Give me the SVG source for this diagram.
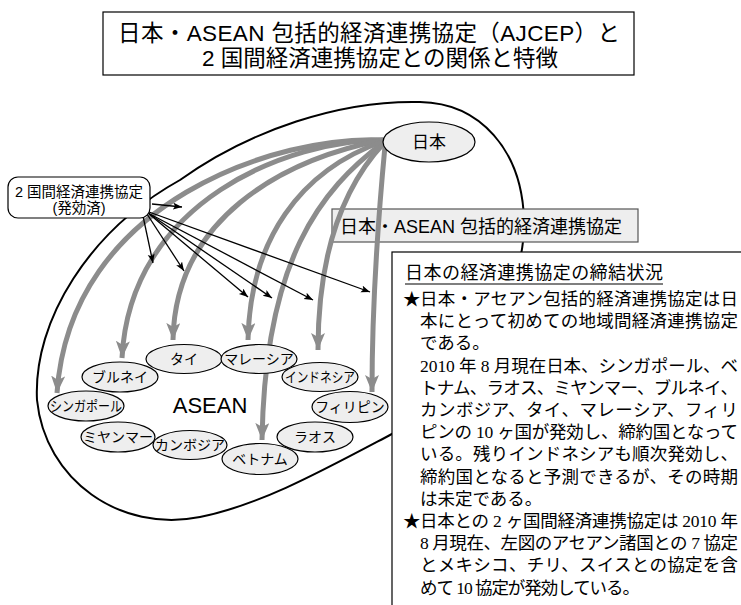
<svg xmlns="http://www.w3.org/2000/svg" width="741" height="605" viewBox="0 0 741 605">
<style>
.sans{font-family:"Liberation Sans","Noto Sans CJK JP",sans-serif;fill:#000}
.body{font-family:"Liberation Serif","Noto Sans CJK JP",serif;font-size:17.5px;fill:#000}
.country{fill:#eeeeee;stroke:#000;stroke-width:1.2}
.clabel{font-family:"Liberation Sans","Noto Sans CJK JP",sans-serif;font-size:14px;text-anchor:middle;fill:#000}
.gray{fill:none;stroke:#8c8c8c;stroke-width:5;marker-end:url(#ga)}
.blk{fill:none;stroke:#000;stroke-width:1.3;marker-end:url(#ba)}
</style>
<defs>
<marker id="ga" markerUnits="userSpaceOnUse" markerWidth="18" markerHeight="16" refX="17" refY="7" orient="auto">
<path d="M0,0 L17,7 L0,14 L4,7 Z" fill="#8c8c8c"/>
</marker>
<marker id="ba" markerUnits="userSpaceOnUse" markerWidth="10" markerHeight="8" refX="9" refY="3.5" orient="auto">
<path d="M0,0 L9,3.5 L0,7 L2,3.5 Z" fill="#000"/>
</marker>
</defs>
<rect width="741" height="605" fill="#fff"/>

<g id="title">
<rect x="103" y="12" width="531" height="63" fill="#fff" stroke="#000" stroke-width="1.2"/>
<text class="sans" x="118" y="41" font-size="22.5" textLength="502" lengthAdjust="spacing">日本・ASEAN 包括的経済連携協定（AJCEP）と</text>
<text class="sans" x="380" y="66" font-size="22.5" text-anchor="middle">2 国間経済連携協定との関係と特徴</text>
</g>

<g id="asean-region">
<path d="M37,400 C33,320 90,230 180,180 C250,130 340,100 420,102 C480,103 522,150 524,220 C526,300 460,400 390,435 C320,472 260,505 200,517 C120,533 45,480 37,400 Z" fill="none" stroke="#000" stroke-width="2"/>
</g>

<g id="ajcep-label">
<rect x="332" y="209" width="306" height="33" fill="#eeeeee" stroke="#555" stroke-width="1.2"/>
<text class="sans" x="340" y="233" font-size="18">日本・ASEAN 包括的経済連携協定</text>
</g>

<g id="connectors">
<path class="gray" d="M383,140 C280,135 70,200 57,393"/>
<path class="gray" d="M383,140 C290,140 130,200 122,358"/>
<path class="gray" d="M383,140 C280,160 175,220 173,340"/>
<path class="gray" d="M384,141 C300,170 250,240 248,340"/>
<path class="gray" d="M384,142 C320,190 265,260 262,440"/>
<path class="gray" d="M384,143 C340,190 318,260 318,350"/>
<path class="gray" d="M385,146 C378,220 372,300 372,392"/>
<path class="blk" d="M152,204 L182,207"/>
<path class="blk" d="M143,216 L153,263"/>
<path class="blk" d="M147,214 L184,271"/>
<path class="blk" d="M148,213 L248,297"/>
<path class="blk" d="M148,213 L272,298"/>
<path class="blk" d="M148,213 L313,300"/>
<path class="blk" d="M149,212 L370,292"/>
</g>

<g id="bilateral">
<rect x="8" y="177" width="142" height="41" rx="10" fill="#fff" stroke="#000" stroke-width="1.2"/>
<text class="sans" x="79" y="197" font-size="14.5" text-anchor="middle">2 国間経済連携協定</text>
<text class="sans" x="79" y="213" font-size="14.5" text-anchor="middle">(発効済)</text>
</g>

<g id="japan">
<ellipse cx="429" cy="142" rx="46" ry="20" fill="#eeeeee" stroke="#000" stroke-width="1.2"/>
<text class="sans" x="429" y="148" font-size="17" text-anchor="middle">日本</text>
</g>

<g id="asean-label">
<text class="sans" x="210" y="413" font-size="22" text-anchor="middle">ASEAN</text>
</g>

<g id="thai"><ellipse class="country" cx="184" cy="359" rx="38" ry="14.5"/><text class="clabel" x="184" y="364">タイ</text></g>
<g id="malaysia"><ellipse class="country" cx="259" cy="359" rx="38" ry="14.5"/><text class="clabel" x="259" y="364">マレーシア</text></g>
<g id="brunei"><ellipse class="country" cx="120" cy="377" rx="38" ry="15"/><text class="clabel" x="120" y="382">ブルネイ</text></g>
<g id="indonesia"><ellipse class="country" cx="320" cy="377" rx="38" ry="14.5"/><text class="clabel" x="320" y="382" textLength="70" lengthAdjust="spacingAndGlyphs">インドネシア</text></g>
<g id="singapore"><ellipse class="country" cx="86" cy="406" rx="38" ry="15"/><text class="clabel" x="86" y="411" textLength="72" lengthAdjust="spacingAndGlyphs">シンガポール</text></g>
<g id="philippines"><ellipse class="country" cx="350" cy="407" rx="38" ry="15.5"/><text class="clabel" x="350" y="412">フィリピン</text></g>
<g id="myanmar"><ellipse class="country" cx="118" cy="437" rx="37" ry="15"/><text class="clabel" x="118" y="442">ミヤンマー</text></g>
<g id="laos"><ellipse class="country" cx="315" cy="437" rx="38" ry="15"/><text class="clabel" x="315" y="442">ラオス</text></g>
<g id="cambodia"><ellipse class="country" cx="190" cy="445" rx="37" ry="14.5"/><text class="clabel" x="190" y="450">カンボジア</text></g>
<g id="vietnam"><ellipse class="country" cx="260" cy="459" rx="38" ry="15.5"/><text class="clabel" x="260" y="464">ベトナム</text></g>

<g id="status-box">
<rect x="392" y="252" width="400" height="400" fill="#fff" stroke="#000" stroke-width="1.2"/>
<text class="sans" x="405" y="279" font-size="18" textLength="258">日本の経済連携協定の締結状況</text>
<line x1="405" y1="284" x2="663" y2="284" stroke="#000" stroke-width="1.2"/>
<text class="body" x="403" y="305">★</text>
<text class="body" x="420" y="305" textLength="318">日本・アセアン包括的経済連携協定は日</text>
<text class="body" x="420" y="327" textLength="318">本にとって初めての地域間経済連携協定</text>
<text class="body" x="420" y="349">である。</text>
<text class="body" x="420" y="372" textLength="318">2010 年 8 月現在日本、シンガポール、ベ</text>
<text class="body" x="420" y="394" textLength="318">トナム、ラオス、ミヤンマー、ブルネイ、</text>
<text class="body" x="420" y="416" textLength="318">カンボジア、タイ、マレーシア、フィリ</text>
<text class="body" x="420" y="438" textLength="318">ピンの 10 ヶ国が発効し、締約国となって</text>
<text class="body" x="420" y="460" textLength="318">いる。残りインドネシアも順次発効し、</text>
<text class="body" x="420" y="483" textLength="318">締約国となると予測できるが、その時期</text>
<text class="body" x="420" y="505">は未定である。</text>
<text class="body" x="403" y="527">★</text>
<text class="body" x="420" y="527" textLength="318">日本との 2 ヶ国間経済連携協定は 2010 年</text>
<text class="body" x="420" y="549" textLength="318">8 月現在、左図のアセアン諸国との 7 協定</text>
<text class="body" x="420" y="571" textLength="318">とメキシコ、チリ、スイスとの協定を含</text>
<text class="body" x="420" y="594" textLength="220">めて 10 協定が発効している。</text>
</g>
</svg>
